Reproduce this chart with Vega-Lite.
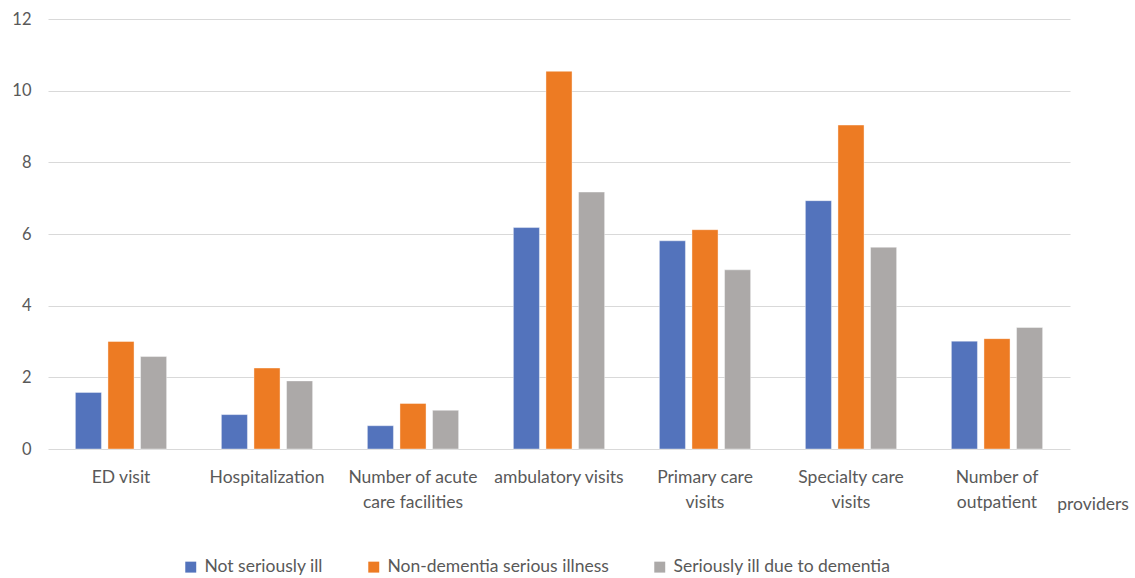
{
  "$schema": "https://vega.github.io/schema/vega-lite/v6.json",
  "autosize": "none",
  "padding": {"left": 48, "top": 19, "right": 65, "bottom": 129},
  "width": 1022,
  "height": 430,
  "background": "white",
  "config": {
    "view": {"stroke": null},
    "font": "Lato",
    "axis": {"labelFont": "Lato", "labelColor": "#595959", "labelFontSize": 16.5}
  },
  "data": {
    "values": [
      {"measure": "ED visit", "group": "Not seriously ill", "value": 1.58},
      {"measure": "ED visit", "group": "Non-dementia serious illness", "value": 3.0},
      {"measure": "ED visit", "group": "Seriously ill due to dementia", "value": 2.58},
      {"measure": "Hospitalization", "group": "Not seriously ill", "value": 0.96},
      {"measure": "Hospitalization", "group": "Non-dementia serious illness", "value": 2.26},
      {"measure": "Hospitalization", "group": "Seriously ill due to dementia", "value": 1.9},
      {"measure": "Number of acute care facilities", "group": "Not seriously ill", "value": 0.65},
      {"measure": "Number of acute care facilities", "group": "Non-dementia serious illness", "value": 1.27},
      {"measure": "Number of acute care facilities", "group": "Seriously ill due to dementia", "value": 1.08},
      {"measure": "ambulatory visits", "group": "Not seriously ill", "value": 6.18},
      {"measure": "ambulatory visits", "group": "Non-dementia serious illness", "value": 10.54},
      {"measure": "ambulatory visits", "group": "Seriously ill due to dementia", "value": 7.17},
      {"measure": "Primary care visits", "group": "Not seriously ill", "value": 5.81},
      {"measure": "Primary care visits", "group": "Non-dementia serious illness", "value": 6.12},
      {"measure": "Primary care visits", "group": "Seriously ill due to dementia", "value": 5.0},
      {"measure": "Specialty care visits", "group": "Not seriously ill", "value": 6.93},
      {"measure": "Specialty care visits", "group": "Non-dementia serious illness", "value": 9.04},
      {"measure": "Specialty care visits", "group": "Seriously ill due to dementia", "value": 5.63},
      {"measure": "Number of outpatient providers", "group": "Not seriously ill", "value": 3.01},
      {"measure": "Number of outpatient providers", "group": "Non-dementia serious illness", "value": 3.08},
      {"measure": "Number of outpatient providers", "group": "Seriously ill due to dementia", "value": 3.39}
    ]
  },
  "encoding": {
    "x": {
      "field": "measure",
      "type": "nominal",
      "sort": null,
      "scale": {"paddingInner": 0.375, "paddingOuter": 0.1875},
      "axis": {
        "title": null,
        "labelAngle": 0,
        "ticks": false,
        "domain": false,
        "labelPadding": 28,
        "labelLineHeight": 25,
        "labelBaseline": "middle",
        "labelFontSize": 17.5,
        "labelLimit": 300,
        "labelExpr": "datum.value == 'Number of acute care facilities' ? ['Number of acute', 'care facilities'] : datum.value == 'Primary care visits' ? ['Primary care', 'visits'] : datum.value == 'Specialty care visits' ? ['Specialty care', 'visits'] : datum.value == 'Number of outpatient providers' ? ['Number of', 'outpatient'] : datum.value"
      }
    }
  },
  "layer": [
    {
      "mark": {"type": "bar", "stroke": "white", "strokeWidth": 0.8, "strokeOpacity": 0.5},
      "encoding": {
        "xOffset": {"field": "group", "type": "nominal", "sort": null, "scale": {"paddingInner": 0.2, "paddingOuter": 0}},
        "y": {
          "field": "value",
          "type": "quantitative",
          "scale": {"domain": [0, 12], "nice": false},
          "axis": {
            "title": null,
            "values": [0, 2, 4, 6, 8, 10, 12],
            "ticks": false,
            "domain": false,
            "gridColor": "#D9D9D9",
            "gridWidth": 1,
            "labelPadding": 17
          }
        },
        "color": {
          "field": "group",
          "type": "nominal",
          "sort": null,
          "scale": {
            "domain": ["Not seriously ill", "Non-dementia serious illness", "Seriously ill due to dementia"],
            "range": ["#5373BC", "#ED7B23", "#ACA9A8"]
          },
          "legend": {
            "title": null,
            "orient": "none",
            "direction": "horizontal",
            "legendX": 134,
            "legendY": 539,
            "symbolType": "square",
            "symbolSize": 120,
            "symbolStrokeWidth": 0,
            "labelFont": "Lato",
            "labelFontSize": 17.5,
            "labelColor": "#595959",
            "labelLimit": 400,
            "columnPadding": 42,
            "labelOffset": 5
          }
        }
      }
    },
    {
      "transform": [{"filter": "datum.measure == 'Number of outpatient providers' && datum.group == 'Not seriously ill'"}],
      "mark": {"type": "text", "text": "providers", "font": "Lato", "fontSize": 17.5, "color": "#595959", "dx": 96, "dy": 56, "baseline": "middle", "align": "center"},
      "encoding": {"y": {"datum": 0}}
    }
  ]
}
